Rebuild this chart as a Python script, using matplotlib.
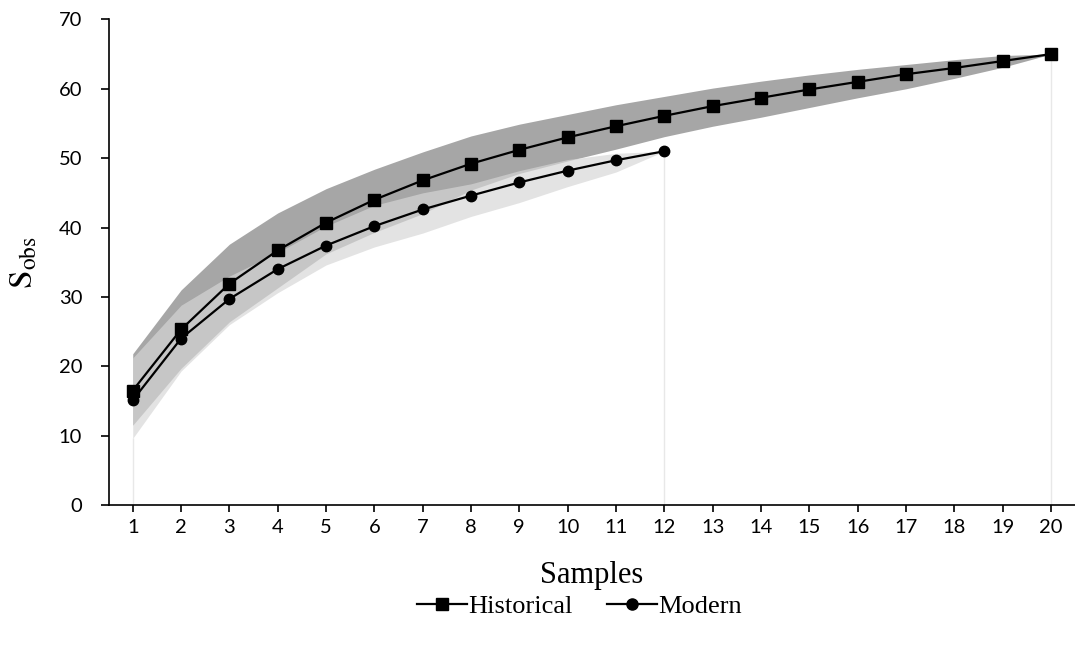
import matplotlib
matplotlib.use("Agg")
import matplotlib.pyplot as plt
from matplotlib.lines import Line2D

samples_hist = list(range(1, 21))
samples_mod = list(range(1, 13))

hist_mean = [16.5, 25.3, 31.9, 36.7, 40.7, 44.0, 46.8, 49.2, 51.2, 53.0,
             54.6, 56.1, 57.5, 58.7, 59.9, 61.0, 62.1, 63.0, 64.0, 65.0]
hist_upper = [21.8, 31.0, 37.6, 42.1, 45.6, 48.4, 50.9, 53.2, 54.9, 56.3,
              57.7, 58.9, 60.1, 61.1, 62.0, 62.8, 63.5, 64.2, 64.8, 65.0]
hist_lower = [11.5, 19.7, 26.4, 31.3, 36.2, 39.3, 42.0, 45.4, 47.8, 49.6,
              51.3, 53.1, 54.6, 55.9, 57.3, 58.7, 60.0, 61.5, 63.1, 65.0]

mod_mean = [15.1, 24.0, 29.7, 34.0, 37.4, 40.2, 42.6, 44.6, 46.5, 48.2, 49.7, 51.0]
mod_upper = [21.2, 28.8, 33.0, 36.4, 40.2, 43.2, 45.0, 46.3, 48.2, 49.8, 50.7, 51.0]
mod_lower = [9.6, 19.3, 26.0, 30.6, 34.6, 37.2, 39.2, 41.6, 43.6, 45.9, 48.0, 51.0]

yticks = [0, 10, 20, 30, 40, 50, 60, 70]

plt.rcParams['mathtext.fontset'] = 'stix'

fig = plt.figure(figsize=(10.75, 6.48), dpi=100)
ax = fig.add_axes([0.101, 0.2207, 0.899, 0.7493])

# faint edge lines of the band areas
edge_c = '#e8e8e8'
ax.vlines([samples_mod[0]], 0, [mod_lower[0]], colors=edge_c, lw=1, zorder=1)
ax.vlines([samples_mod[-1]], 0, [mod_mean[-1]], colors=edge_c, lw=1, zorder=1)
ax.vlines([samples_hist[-1]], 0, [hist_mean[-1]], colors=edge_c, lw=1, zorder=1)

ax.fill_between(samples_hist, hist_lower, hist_upper, color='#a6a6a6', lw=0, zorder=2)
ax.fill_between(samples_mod, mod_lower, mod_upper, color='#d6d6d6', alpha=0.68, lw=0, zorder=3)

ax.plot(samples_hist, hist_mean, color='black', lw=1.6, marker='s', ms=8.5, zorder=5)
ax.plot(samples_mod, mod_mean, color='black', lw=1.6, marker='o', ms=7.5, zorder=5)

ax.set_xlim(0.5, 20.5)
ax.set_ylim(0, 70)
ax.set_xticks(samples_hist)
ax.set_yticks(yticks)

for s in ['top', 'right']:
    ax.spines[s].set_visible(False)
for s in ['left', 'bottom']:
    ax.spines[s].set_linewidth(1.2)
    ax.spines[s].set_color('black')

ax.tick_params(axis='both', direction='out', length=6, width=1.2, colors='black')
ax.tick_params(axis='x', length=5, pad=5)
ax.tick_params(axis='y', pad=13)
for lab in ax.get_xticklabels() + ax.get_yticklabels():
    lab.set_fontfamily('Lato')
    lab.set_fontsize(14.5)

ax.set_xlabel('Samples', fontfamily='Liberation Serif', fontsize=22, labelpad=18)
ax.set_ylabel(r'$\mathrm{S}_{\mathrm{obs}}$', fontsize=24, labelpad=14)

handles = [Line2D([], [], color='black', lw=1.6, marker='s', ms=9),
           Line2D([], [], color='black', lw=1.6, marker='o', ms=8)]
fig.legend(handles, ['Historical', 'Modern'], loc='center', ncol=2,
           bbox_to_anchor=(0.539, 0.064), frameon=False,
           prop={'family': 'Liberation Serif', 'size': 19},
           handlelength=1.9, handletextpad=0.05, columnspacing=1.3)

fig.savefig('out.png', dpi=100)
